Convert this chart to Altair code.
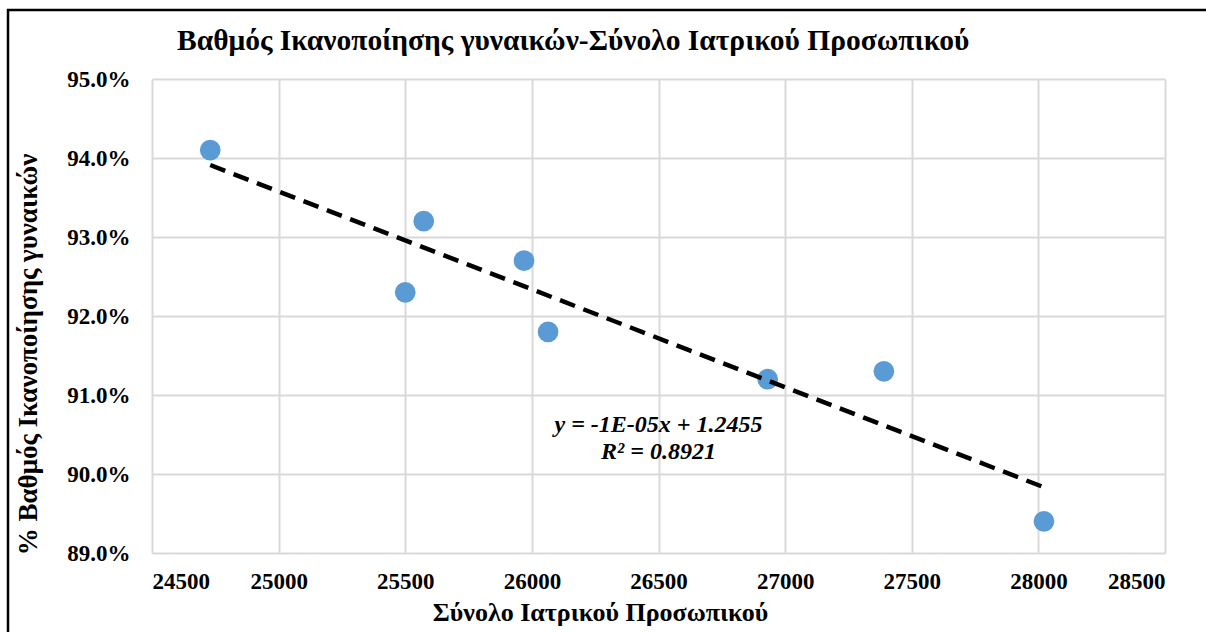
import altair as alt
import pandas as pd

# Total medical staff vs. share of satisfied women
staff = [24730, 25500, 25573, 25969, 26064, 26931, 27390, 28022]
satisfaction = [0.941, 0.923, 0.932, 0.927, 0.918, 0.912, 0.913, 0.894]

x_ticks = [24500, 25000, 25500, 26000, 26500, 27000, 27500, 28000, 28500]
y_ticks = [0.89, 0.90, 0.91, 0.92, 0.93, 0.94, 0.95]

equation_lines = ["y = -1E-05x + 1.2455", "R² = 0.8921"]
equation_x = [26500, 26500]
equation_y = [0.9062, 0.9028]

title_text = "Βαθμός Ικανοποίησης γυναικών-Σύνολο Ιατρικού Προσωπικού"
x_title = "Σύνολο Ιατρικού Προσωπικού"
y_title = "% Βαθμός Ικανοποίησης γυναικών"

FONT = "Liberation Serif"
GRID = "#d9d9d9"

df = pd.DataFrame({"staff": staff, "satisfaction": satisfaction})
eq_df = pd.DataFrame({"label": equation_lines, "ex": equation_x, "ey": equation_y})
one = pd.DataFrame({"k": [0]})

x_enc = alt.X(
    "staff:Q",
    scale=alt.Scale(domain=[x_ticks[0], x_ticks[-1]], nice=False, zero=False),
    axis=alt.Axis(
        values=x_ticks,
        format="d",
        title=x_title,
        titleFontSize=26,
        titleX=448,
        titleY=67,
        titleAlign="center",
        titleBaseline="alphabetic",
        labelPadding=17,
    ),
)
y_enc = alt.Y(
    "satisfaction:Q",
    scale=alt.Scale(domain=[y_ticks[0], y_ticks[-1]], nice=False, zero=False),
    axis=alt.Axis(
        values=y_ticks,
        format=".1%",
        title=y_title,
        titleFontSize=27,
        titleX=-116,
        titleY=275,
        titleAlign="center",
        titleBaseline="alphabetic",
        titleAngle=-90,
        labelPadding=22,
    ),
)

# Outer frame of the figure
frame = alt.Chart(one).mark_rect(
    fill=None, stroke="black", strokeWidth=2.5
).encode(
    x=alt.value(-144), x2=alt.value(1300),
    y=alt.value(-69), y2=alt.value(700),
)

# Chart heading
heading = alt.Chart(one).mark_text(
    text=title_text, font=FONT, fontSize=29.5, fontWeight="bold",
    color="black", align="left", baseline="alphabetic",
).encode(x=alt.value(25), y=alt.value(-29))

points = alt.Chart(df).mark_circle(
    size=430, color="#5b9bd5", opacity=1
).encode(x=x_enc, y=y_enc)

trend = alt.Chart(df).transform_regression(
    "staff", "satisfaction"
).mark_line(
    color="black", strokeWidth=4.5, strokeDash=[16, 9], strokeCap="butt"
).encode(x="staff:Q", y="satisfaction:Q")

equation = alt.Chart(eq_df).mark_text(
    font=FONT, fontSize=24, fontWeight="bold", fontStyle="italic",
    color="black", align="center", baseline="middle",
).encode(x="ex:Q", y="ey:Q", text="label:N")

chart = alt.layer(frame, heading, points, trend, equation).properties(
    width=1013,
    height=474,
    background="white",
    autosize=alt.AutoSizeParams(type="none"),
    padding={"left": 152, "top": 79, "right": 41, "bottom": 79},
).configure_view(
    stroke=None
).configure_axis(
    grid=True,
    gridColor=GRID,
    gridWidth=2,
    domain=False,
    ticks=False,
    labelFont=FONT,
    labelFontSize=23,
    labelFontWeight="bold",
    labelColor="black",
    titleFont=FONT,
    titleFontWeight="bold",
    titleColor="black",
)

chart.save("out.html", embed_options={"renderer": "svg", "actions": False})
